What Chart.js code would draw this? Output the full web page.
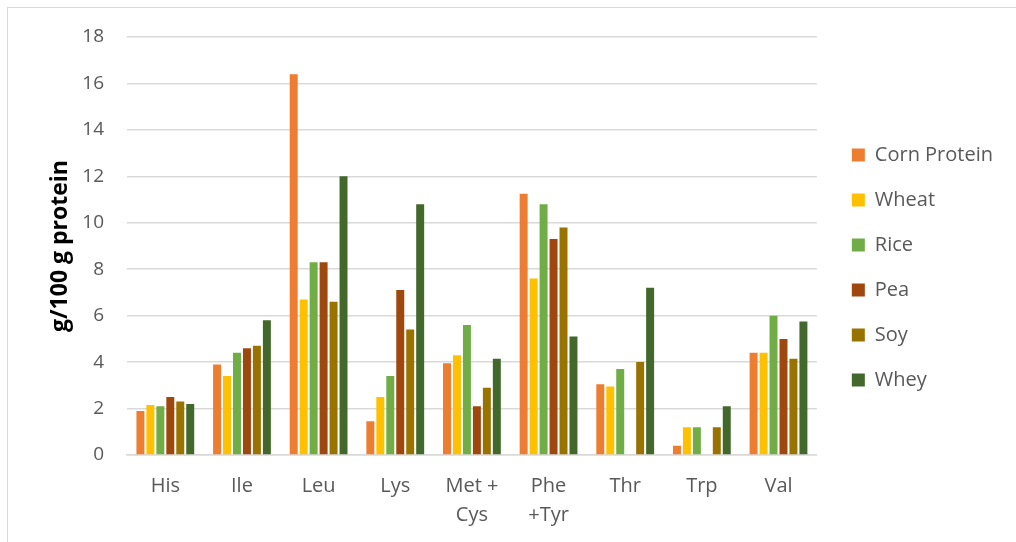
<!DOCTYPE html>
<html>
<head>
<meta charset="utf-8">
<script src="https://cdn.jsdelivr.net/npm/chart.js@4/dist/chart.umd.min.js"></script>
<style>
  html, body { margin: 0; padding: 0; background: #fff; overflow: hidden; }
  #frame { position: absolute; left: 7px; top: 7px; width: 1100px; height: 600px; border: 1px solid #d9d9d9; }
  #wrap { position: absolute; left: 0; top: 0; width: 1016px; height: 542px; }
</style>
</head>
<body>
<div id="frame"></div>
<div id="wrap"><canvas id="myBarChart"></canvas></div>
<script>
// amino acids on the x axis
const categories = ["His", "Ile", "Leu", "Lys", ["Met +", "Cys"], ["Phe", "+Tyr"], "Thr", "Trp", "Val"];

// g/100 g protein
const cornProtein = [1.9, 3.9, 16.4, 1.45, 3.95, 11.25, 3.05, 0.4, 4.4];
const wheat = [2.15, 3.4, 6.7, 2.5, 4.3, 7.6, 2.95, 1.2, 4.4];
const rice = [2.1, 4.4, 8.3, 3.4, 5.6, 10.8, 3.7, 1.2, 6.0];
const pea = [2.5, 4.6, 8.3, 7.1, 2.1, 9.3, 0, 0, 5.0];
const soy = [2.3, 4.7, 6.6, 5.4, 2.9, 9.8, 4.0, 1.2, 4.15];
const whey = [2.2, 5.8, 12.0, 10.8, 4.15, 5.1, 7.2, 2.1, 5.75];

const seriesNames = ["Corn Protein", "Wheat", "Rice", "Pea", "Soy", "Whey"];
const seriesValues = [cornProtein, wheat, rice, pea, soy, whey];
const seriesColors = ["#ED7D31", "#FFC000", "#70AD47", "#9E480E", "#997300", "#43682B"];

const yMin = 0;
const yMax = 18;
const yStep = 2;

const fontFamily = "'Open Sans', 'Noto Sans', sans-serif";
const textGrey = "#595959";

const datasets = seriesNames.map((name, i) => ({
  label: name,
  data: seriesValues[i],
  backgroundColor: seriesColors[i],
  borderWidth: 0,
  categoryPercentage: 0.78,
  barPercentage: 0.8
}));

const bar = document.getElementById("myBarChart");

new Chart(bar, {
  type: "bar",
  data: { labels: categories, datasets: datasets },
  options: {
    responsive: true,
    maintainAspectRatio: false,
    animation: false,
    // negative top/bottom so the (centred) legend sits where the original has it
    layout: { padding: { left: 47, top: -22, right: 13, bottom: -5 } },
    plugins: {
      tooltip: { enabled: false },
      legend: {
        position: "right",
        labels: {
          boxWidth: 13,
          boxHeight: 13,
          padding: 35,
          color: textGrey,
          font: { family: fontFamily, size: 20, lineHeight: "10px" },
          // single-line arrays so the row step is lineHeight + padding
          generateLabels: (chart) =>
            Chart.defaults.plugins.legend.labels.generateLabels(chart).map((l) => ({ ...l, text: [l.text] }))
        }
      }
    },
    scales: {
      x: {
        grid: { display: false, drawTicks: false },
        border: { display: true, color: "#d9d9d9", width: 1.5 },
        ticks: {
          color: textGrey,
          padding: 17,
          maxRotation: 0,
          autoSkip: false,
          font: { family: fontFamily, size: 20, lineHeight: "29px" }
        }
      },
      y: {
        min: yMin,
        max: yMax,
        grid: { color: "#d9d9d9", lineWidth: 1.5, drawTicks: false },
        border: { display: false },
        ticks: {
          stepSize: yStep,
          color: textGrey,
          padding: 23,
          font: { family: fontFamily, size: 19 }
        },
        title: {
          display: true,
          text: "g/100 g protein",
          color: "#000",
          padding: { top: 0, bottom: 0 },
          font: { family: fontFamily, size: 23, weight: "bold" }
        },
        afterFit: (scale) => {
          scale.width = 80;
          scale.paddingTop = 37; // plot top at the 18 line
        }
      }
    }
  }
});
</script>
</body>
</html>
